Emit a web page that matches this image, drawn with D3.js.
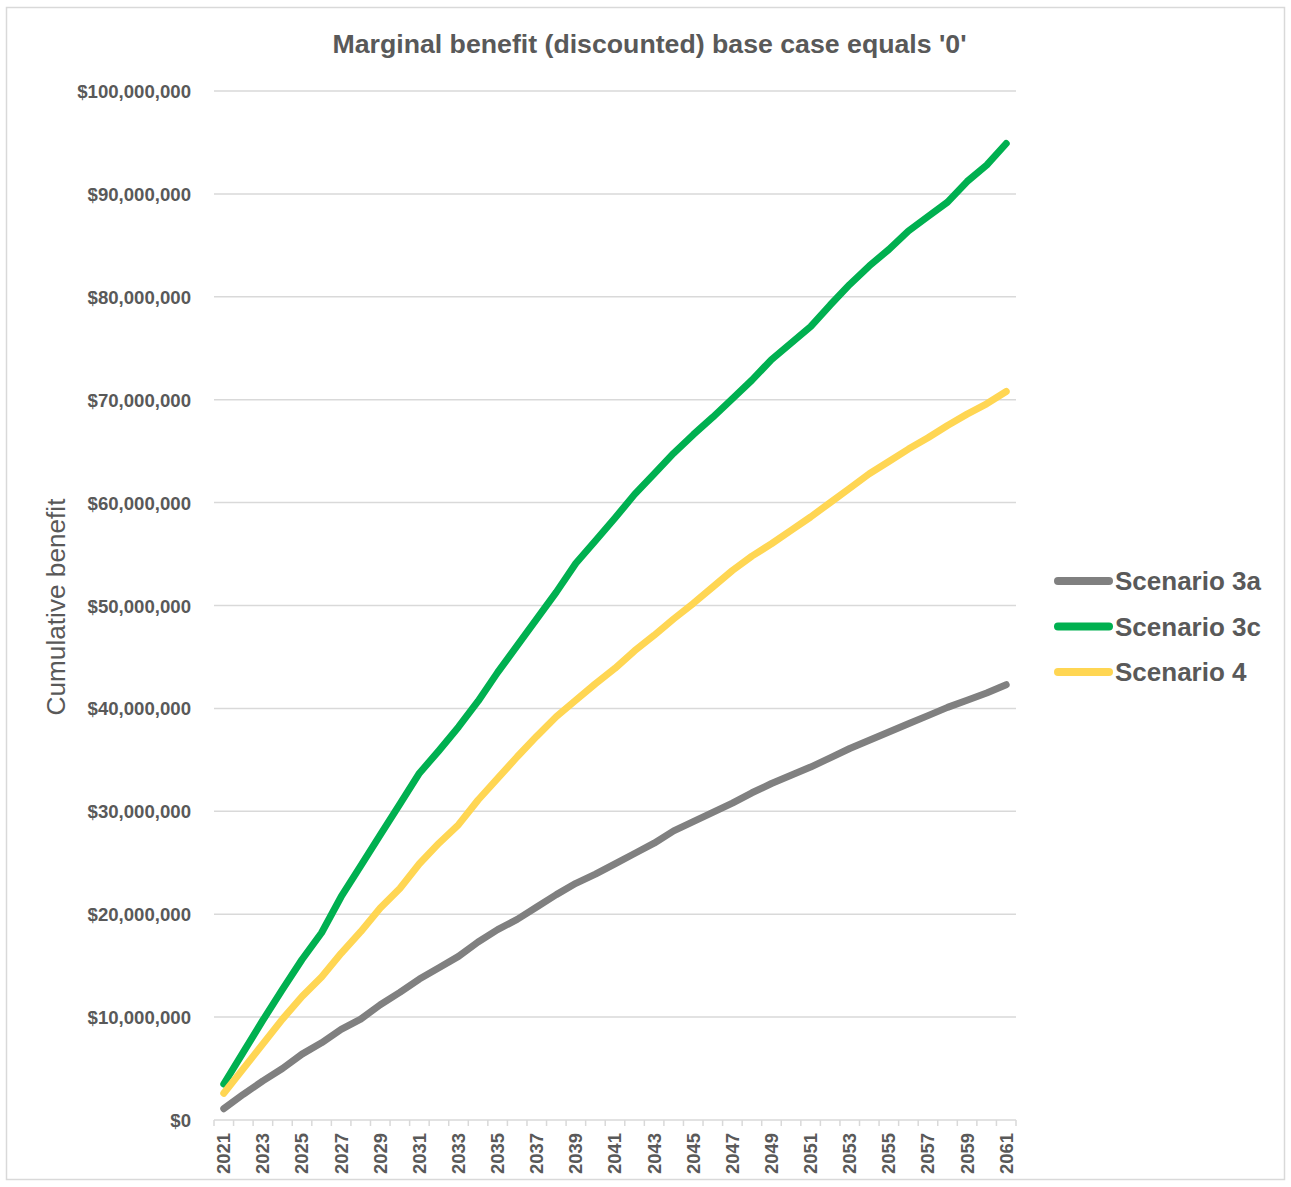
<!DOCTYPE html>
<html>
<head>
<meta charset="utf-8">
<script src="https://cdn.jsdelivr.net/npm/d3@7"></script>
<style>
  body { margin: 0; background: #fff; }
  svg { display: block; font-family: "Liberation Sans", Arial, sans-serif; }
</style>
</head>
<body>
<svg id="chart" width="1291" height="1187"></svg>
<script>
const years = d3.range(2021, 2062);
const yTicks = [0, 10e6, 20e6, 30e6, 40e6, 50e6, 60e6, 70e6, 80e6, 90e6, 100e6];
const seriesNames = ["Scenario 3a", "Scenario 3c", "Scenario 4"];
const seriesColors = ["#808080", "#00b050", "#ffd653"];
// values in millions of dollars, 2021..2061
const scenario3a = [1.1, 2.5, 3.8, 5.0, 6.4, 7.5, 8.8, 9.8, 11.2, 12.4, 13.7, 14.8, 15.9, 17.3, 18.5, 19.5, 20.7, 21.9, 23.0, 23.9, 24.9,
  25.9, 26.9, 28.1, 29.0, 29.9, 30.8, 31.8, 32.7, 33.5, 34.3, 35.2, 36.1, 36.9, 37.7, 38.5, 39.3, 40.1, 40.8, 41.5, 42.3];
const scenario3c = [3.5, 6.6, 9.7, 12.7, 15.6, 18.2, 21.7, 24.7, 27.7, 30.7, 33.7, 35.9, 38.2, 40.7, 43.5, 46.1, 48.7, 51.3, 54.1, 56.3, 58.5,
  60.8, 62.8, 64.8, 66.6, 68.3, 70.1, 71.9, 73.9, 75.5, 77.1, 79.2, 81.2, 83.0, 84.6, 86.4, 87.8, 89.2, 91.2, 92.8, 94.9];
const scenario4 = [2.6, 5.0, 7.4, 9.8, 12.0, 13.9, 16.2, 18.3, 20.6, 22.5, 24.9, 26.9, 28.7, 31.1, 33.2, 35.3, 37.3, 39.2, 40.8, 42.4, 43.9,
  45.6, 47.1, 48.7, 50.2, 51.8, 53.4, 54.8, 56.0, 57.3, 58.6, 60.0, 61.4, 62.8, 64.0, 65.2, 66.3, 67.5, 68.6, 69.6, 70.8];
const seriesValues = [scenario3a, scenario3c, scenario4];

const svg = d3.select("#chart");
const textColor = "#595959";
const gridColor = "#d9d9d9";

// outer border
svg.append("rect").attr("x", 6.5).attr("y", 7.5).attr("width", 1278).attr("height", 1172)
  .attr("fill", "#fff").attr("stroke", "#d9d9d9").attr("stroke-width", 1.5);

const plotLeft = 214, plotRight = 1016, plotTop = 91, plotBottom = 1120;
const xBand = d3.scaleBand().domain(years).range([plotLeft, plotRight]).paddingInner(0).paddingOuter(0);
const x = d => xBand(d) + xBand.bandwidth() / 2;
const y = d3.scaleLinear().domain([0, 100e6]).range([plotBottom, plotTop]);

// title
svg.append("text").attr("x", 649.5).attr("y", 53).attr("text-anchor", "middle")
  .attr("font-size", 26.7).attr("font-weight", "bold").attr("fill", textColor)
  .text("Marginal benefit (discounted) base case equals '0'");

// gridlines
svg.append("g").selectAll("line").data(yTicks.filter(d => d > 0)).join("line")
  .attr("x1", plotLeft).attr("x2", plotRight).attr("y1", d => y(d)).attr("y2", d => y(d))
  .attr("stroke", gridColor).attr("stroke-width", 1.5);

// y axis labels
const yAxis = d3.axisLeft(y).tickValues(yTicks).tickSize(0).tickPadding(0)
  .tickFormat(d => "$" + d3.format(",")(d));
const gy = svg.append("g").attr("transform", `translate(${191},0)`).call(yAxis);
gy.select(".domain").remove();
gy.selectAll("text").attr("font-size", 18.6).attr("font-weight", "bold").attr("fill", textColor)
  .attr("font-family", "'Liberation Sans', Arial, sans-serif").attr("dy", "0.35em");

// x axis
svg.append("line").attr("x1", plotLeft).attr("x2", plotRight).attr("y1", plotBottom).attr("y2", plotBottom)
  .attr("stroke", gridColor).attr("stroke-width", 1.5);
const boundaries = years.map(d => xBand(d)).concat([plotRight]);
svg.append("g").selectAll("line").data(boundaries).join("line")
  .attr("x1", d => d).attr("x2", d => d).attr("y1", plotBottom).attr("y2", plotBottom + 6)
  .attr("stroke", gridColor).attr("stroke-width", 1.5);
svg.append("g").selectAll("text").data(years.filter((d, i) => i % 2 === 0)).join("text")
  .attr("transform", d => `translate(${x(d)},${1133}) rotate(-90)`)
  .attr("text-anchor", "end").attr("dy", "0.35em")
  .attr("font-size", 18.4).attr("font-weight", "bold").attr("fill", textColor)
  .text(d => d);

// y axis title
svg.append("text").attr("transform", `translate(65,607) rotate(-90)`).attr("text-anchor", "middle")
  .attr("font-size", 26.2).attr("fill", textColor).text("Cumulative benefit");

// lines
const line = d3.line().x(d => x(d[0])).y(d => y(d[1] * 1e6));
seriesValues.forEach((vals, i) => {
  svg.append("path").datum(years.map((yr, j) => [yr, vals[j]]))
    .attr("d", line).attr("fill", "none").attr("stroke", seriesColors[i])
    .attr("stroke-width", 7).attr("stroke-linecap", "round").attr("stroke-linejoin", "round");
});

// legend
const legendY = [581, 626.5, 672];
seriesNames.forEach((name, i) => {
  svg.append("line").attr("x1", 1058).attr("x2", 1109).attr("y1", legendY[i]).attr("y2", legendY[i])
    .attr("stroke", seriesColors[i]).attr("stroke-width", 8).attr("stroke-linecap", "round");
  svg.append("text").attr("x", 1115).attr("y", legendY[i]).attr("dy", "0.35em")
    .attr("font-size", 26).attr("font-weight", "bold").attr("fill", textColor).text(name);
});
</script>
</body>
</html>
